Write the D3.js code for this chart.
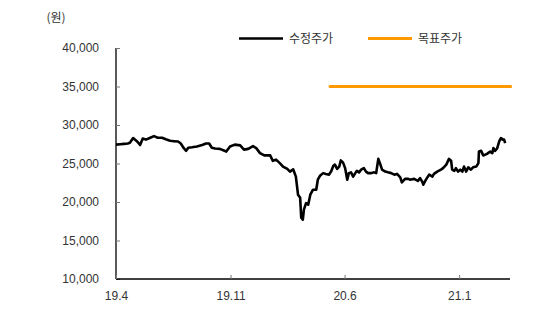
<!DOCTYPE html>
<html>
<head>
<meta charset="utf-8">
<script src="https://cdn.jsdelivr.net/npm/d3@7"></script>
<style>
  html, body { margin: 0; padding: 0; background: #fff; }
  svg { display: block; }
  text { font-family: "Liberation Sans", Arial, sans-serif; fill: #333; }
  .kr { font-family: "Noto Sans CJK KR", "Liberation Sans", sans-serif; }
</style>
</head>
<body>
<svg id="chart" width="546" height="329"></svg>
<script>
// Adjusted close price (수정주가), by trading date
const priceDates = [
  "2019-04-01","2019-04-09","2019-04-16","2019-04-23","2019-04-27","2019-05-03","2019-05-10","2019-05-16",
  "2019-05-21","2019-05-27","2019-06-04","2019-06-11","2019-06-18","2019-06-26","2019-07-03","2019-07-11",
  "2019-07-18","2019-07-26","2019-07-31","2019-08-06","2019-08-10","2019-08-14","2019-08-21","2019-08-30",
  "2019-09-09","2019-09-16","2019-09-22","2019-09-27","2019-10-03","2019-10-12","2019-10-24","2019-10-31",
  "2019-11-09","2019-11-19","2019-11-26","2019-12-04","2019-12-13","2019-12-19","2019-12-26","2020-01-03",
  "2020-01-14","2020-01-19","2020-01-25","2020-02-01","2020-02-07","2020-02-15","2020-02-20","2020-02-26",
  "2020-03-02","2020-03-06","2020-03-10","2020-03-12","2020-03-15","2020-03-17","2020-03-21","2020-03-25",
  "2020-03-29","2020-04-03","2020-04-09","2020-04-12","2020-04-16","2020-04-22","2020-04-27","2020-05-03",
  "2020-05-07","2020-05-11","2020-05-14","2020-05-18","2020-05-22","2020-05-25","2020-05-29","2020-06-02",
  "2020-06-06","2020-06-09","2020-06-13","2020-06-17","2020-06-21","2020-06-24","2020-06-28","2020-07-02",
  "2020-07-07","2020-07-11","2020-07-15","2020-07-21","2020-07-26","2020-07-30","2020-08-03","2020-08-06",
  "2020-08-10","2020-08-16","2020-08-21","2020-08-27","2020-09-02","2020-09-07","2020-09-13","2020-09-16",
  "2020-09-22","2020-09-28","2020-10-01","2020-10-09","2020-10-16","2020-10-20","2020-10-24","2020-10-26",
  "2020-10-31","2020-11-06","2020-11-12","2020-11-15","2020-11-21","2020-11-28","2020-12-02","2020-12-08",
  "2020-12-13","2020-12-17","2020-12-19","2020-12-23","2020-12-26","2020-12-30","2021-01-03","2021-01-07",
  "2021-01-10","2021-01-14","2021-01-18","2021-01-23","2021-01-27","2021-02-02","2021-02-06","2021-02-07",
  "2021-02-11","2021-02-15","2021-02-19","2021-02-22","2021-02-28","2021-03-04","2021-03-06","2021-03-09",
  "2021-03-13","2021-03-17","2021-03-20","2021-03-24","2021-03-26","2021-03-28"
];
const priceValues = [
  27450,27500,27550,27600,27700,28300,27900,27400,
  28250,28100,28350,28550,28350,28350,28150,27950,
  27900,27850,27600,26950,26650,27050,27100,27200,
  27400,27600,27600,27050,26950,26900,26550,27200,
  27450,27350,26800,26900,27250,27000,26350,26050,
  26050,25350,25500,25050,24600,24300,23950,24250,
  23300,20950,20550,17950,17700,19000,19850,19650,
  20950,21600,21600,22900,23400,23750,23650,23550,
  24000,24700,24850,24300,24600,25400,25150,24400,
  22900,23750,23850,23300,23750,24050,23850,24200,
  24400,23950,23750,23750,23850,23750,25600,25050,
  24200,23950,23850,23750,23550,23650,23200,22550,
  23000,23000,22900,23000,22750,23100,22650,22250,
  22900,23550,23300,23650,23950,24200,24400,24850,
  25600,25350,24200,24050,24400,23950,24200,23950,
  24600,23950,24500,24200,24500,24600,25050,26550,
  26650,26050,26150,26250,26550,26350,27000,26650,
  26950,27900,28300,28100,28100,27650
];

// Target price (목표주가)
const targetDates = ["2020-05-05", "2021-04-07"];
const targetValues = [35000, 35000];

// Axis ticks
const yTicks = [10000, 15000, 20000, 25000, 30000, 35000, 40000];
const xTickDates = ["2019-04-01", "2019-11-01", "2020-06-01", "2021-01-01"];
const xTickLabels = ["19.4", "19.11", "20.6", "21.1"];

const seriesNames = ["수정주가", "목표주가"];
const seriesColors = ["#000000", "#FF9900"];
const unitLabel = "(원)";

const parse = d3.timeParse("%Y-%m-%d");
const price = priceDates.map((d, i) => ({ date: parse(d), value: priceValues[i] }));
const target = targetDates.map((d, i) => ({ date: parse(d), value: targetValues[i] }));

const svg = d3.select("#chart");
const plotLeft = 116, plotRight = 510, plotTop = 48, plotBottom = 279;

const x = d3.scaleTime()
  .domain([parse("2019-04-01"), parse("2021-04-06")])
  .range([plotLeft, plotRight]);
const y = d3.scaleLinear().domain([10000, 40000]).range([plotBottom, plotTop]);

// Y axis: ticks point inward
const yAxis = d3.axisLeft(y)
  .tickValues(yTicks)
  .tickSize(-4)
  .tickPadding(17)
  .tickFormat(d3.format(","));
const gy = svg.append("g").attr("transform", `translate(${plotLeft},0)`).call(yAxis);
gy.select(".domain").attr("stroke", "#000").attr("stroke-width", 1.3)
  .attr("d", `M0,${plotTop}V${plotBottom}`);
gy.selectAll(".tick line").attr("stroke", "#777");
gy.selectAll(".tick text").attr("font-size", 12).attr("fill", "#333")
  .attr("font-family", "Liberation Sans, Arial, sans-serif");

// X axis: ticks point inward
const xTickMap = new Map(xTickDates.map((d, i) => [+parse(d), xTickLabels[i]]));
const xAxis = d3.axisBottom(x)
  .tickValues(xTickDates.map(parse))
  .tickSize(-4)
  .tickPadding(12)
  .tickFormat(d => xTickMap.get(+d));
const gx = svg.append("g").attr("transform", `translate(0,${plotBottom})`).call(xAxis);
gx.select(".domain").attr("stroke", "#000").attr("stroke-width", 1.3)
  .attr("d", `M${plotLeft},0H${plotRight}`);
gx.selectAll(".tick line").attr("stroke", "#777");
gx.selectAll(".tick text").attr("font-size", 12).attr("fill", "#333")
  .attr("font-family", "Liberation Sans, Arial, sans-serif");

const line = d3.line().x(d => x(d.date)).y(d => y(d.value));

svg.append("path")
  .datum(target)
  .attr("fill", "none")
  .attr("stroke", seriesColors[1])
  .attr("stroke-width", 3.2)
  .attr("stroke-linecap", "round")
  .attr("d", line);

svg.append("path")
  .datum(price)
  .attr("fill", "none")
  .attr("stroke", seriesColors[0])
  .attr("stroke-width", 2.6)
  .attr("stroke-linejoin", "round")
  .attr("d", line);

// Unit label
svg.append("text")
  .attr("class", "kr")
  .attr("x", 56).attr("y", 22)
  .attr("text-anchor", "middle")
  .attr("font-size", 12)
  .text(unitLabel);

// Legend
const legend = [
  { x: 239, color: seriesColors[0], width: 2.3, name: seriesNames[0] },
  { x: 368, color: seriesColors[1], width: 3.2, name: seriesNames[1] }
];
const lg = svg.append("g");
legend.forEach(l => {
  lg.append("line")
    .attr("x1", l.x).attr("x2", l.x + 44)
    .attr("y1", 38.5).attr("y2", 38.5)
    .attr("stroke", l.color).attr("stroke-width", l.width);
  lg.append("text")
    .attr("class", "kr")
    .attr("x", l.x + 50).attr("y", 43)
    .attr("font-size", 12)
    .text(l.name);
});
</script>
</body>
</html>
